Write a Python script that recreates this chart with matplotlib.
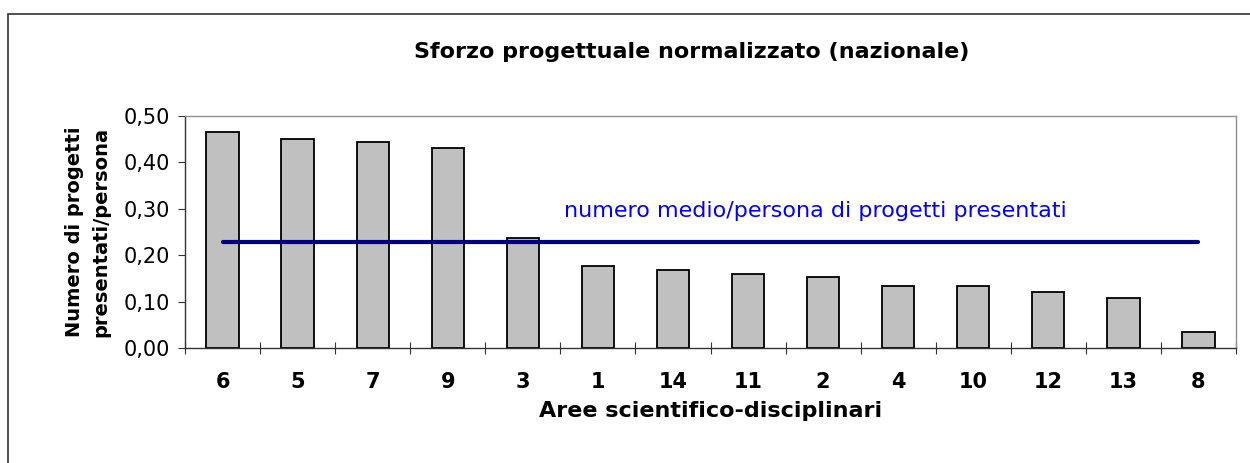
import numpy as np
import matplotlib.pyplot as plt
from matplotlib.patches import Rectangle

# Data
aree = ['6', '5', '7', '9', '3', '1', '14', '11', '2', '4', '10', '12', '13', '8']
sforzo = [0.466, 0.449, 0.444, 0.431, 0.237, 0.177, 0.168, 0.159, 0.152,
          0.134, 0.134, 0.121, 0.108, 0.035]
media = 0.228

plt.rcParams['font.family'] = ['DejaVu Sans']

fig = plt.figure(figsize=(12.5, 4.63), dpi=100)
ax = fig.add_axes([0.148, 0.2484, 0.8408, 0.5016])

x = np.arange(len(aree))
ax.bar(x, sforzo, width=0.43, color='#C0C0C0', edgecolor='black', linewidth=1.3, zorder=2)
ax.plot([x[0], x[-1]], [media, media], color='#000080', lw=3, solid_capstyle='round', zorder=3)
ax.text(4.55, 0.295, 'numero medio/persona di progetti presentati', color='#0000FF',
        fontsize=16, va='center', ha='left')

ax.set_xlim(-0.5, len(aree) - 0.5)
ax.set_ylim(0, 0.5)
ax.set_yticks(np.arange(0, 0.51, 0.1))
ax.set_yticklabels([f'{v:.2f}'.replace('.', ',') for v in np.arange(0, 0.51, 0.1)], fontsize=15)
ax.set_xticks(x)
ax.set_xticklabels(aree, fontsize=15, fontweight='bold')
ax.set_xticks(np.arange(-0.5, len(aree)), minor=True)
ax.tick_params(axis='x', which='major', length=0, pad=17)
ax.tick_params(axis='x', which='minor', direction='inout', length=9, width=0.8, color='#333333')
ax.tick_params(axis='y', direction='out', length=5, width=0.8, color='#333333', pad=6)

for s in ['left', 'bottom']:
    ax.spines[s].set_color('#333333')
    ax.spines[s].set_linewidth(1.0)
for s in ['top', 'right']:
    ax.spines[s].set_color('#909090')
    ax.spines[s].set_linewidth(1.0)

ax.set_xlabel('Aree scientifico-disciplinari', fontsize=16, fontweight='bold', labelpad=7)
ax.set_ylabel('Numero di progetti\npresentati/persona', fontsize=14, fontweight='bold',
              labelpad=9, linespacing=1.5)
fig.text(0.5536, 0.888, 'Sforzo progettuale normalizzato (nazionale)', fontsize=16,
         fontweight='bold', ha='center', va='center')

# outer chart border
fig.patches.append(Rectangle((8 / 1250, -0.1), 1.1, (463 - 14) / 463 + 0.1,
                             transform=fig.transFigure, fill=False,
                             edgecolor='#333333', linewidth=1.2))

fig.savefig('out.png', dpi=100)
